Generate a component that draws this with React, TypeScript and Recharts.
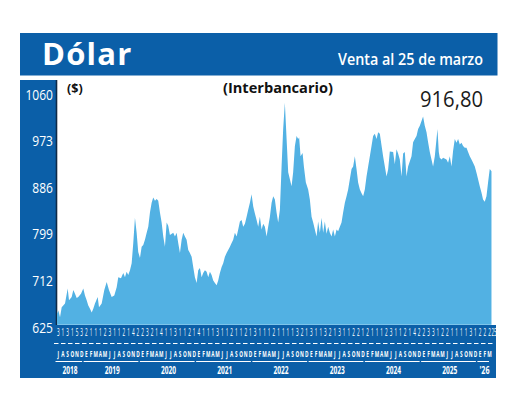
import React from 'react';
import { AreaChart, Area, XAxis, YAxis } from 'recharts';

// months since July 2018 (fractional) and interbank dollar sale price (CLP)
const monthPos = [
  0, 0.15, 0.28, 0.64, 1.0, 1.34, 1.71, 2.28, 2.56, 3.13, 3.48, 3.84, 4.2, 4.54, 5.12, 5.61, 5.97,
  6.33, 6.67, 7.04, 7.4, 7.74, 8.1, 8.68, 8.96, 9.53, 10.09, 10.6, 11.09, 11.66, 12.22, 12.73,
  13.07, 13.65, 14.14, 14.5, 14.86, 15.2, 15.57, 15.93, 16.27, 16.63, 16.99, 17.33, 17.7, 18.06,
  18.4, 18.76, 19.13, 19.47, 19.83, 20.19, 20.53, 20.9, 21.26, 21.6, 21.96, 22.32, 22.67, 23.03,
  23.39, 23.73, 24.09, 24.8, 25.16, 25.52, 25.86, 26.23, 26.59, 26.93, 27.29, 27.65, 28.0, 28.36,
  28.72, 29.06, 29.42, 29.79, 30.13, 30.49, 30.85, 31.19, 31.56, 31.92, 32.26, 32.62, 32.98, 33.33,
  33.69, 34.05, 34.39, 34.75, 35.12, 35.46, 35.82, 36.18, 36.52, 36.89, 37.25, 37.59, 37.95, 38.32,
  38.66, 39.02, 39.38, 39.72, 40.09, 40.45, 40.79, 41.15, 41.51, 41.86, 42.22, 42.58, 42.92, 43.28,
  43.65, 43.99, 44.35, 44.71, 45.05, 45.42, 45.78, 46.12, 46.48, 46.84, 47.19, 47.55, 47.91, 48.25,
  48.61, 48.98, 49.32, 49.68, 50.04, 50.38, 50.75, 51.11, 51.45, 51.66, 51.96, 52.39, 52.67, 53.09,
  53.58, 53.94, 54.31, 54.65, 55.01, 55.37, 55.71, 56.08, 56.44, 56.78, 57.14, 57.51, 57.85, 58.21,
  58.57, 58.91, 59.28, 59.64, 59.98, 60.34, 60.7, 61.04, 61.41, 61.77, 62.11, 62.47, 62.84, 63.18,
  63.54, 63.9, 64.24, 64.61, 64.97, 65.31, 65.67, 66.03, 66.38, 66.74, 67.1, 67.44, 67.8, 68.17,
  68.51, 68.87, 69.57, 70.3, 70.64, 71.0, 71.71, 72.07, 72.43, 72.77, 73.13, 73.5, 73.84, 74.2,
  74.56, 74.9, 75.63, 75.97, 76.33, 76.7, 77.04, 77.4, 77.76, 78.1, 78.46, 78.83, 79.17, 79.53,
  79.89, 80.23, 80.6, 80.96, 81.17, 81.45, 81.66, 82.03, 82.37, 83.09, 83.43, 83.8, 84.16, 84.5,
  84.86, 85.22, 85.57, 85.93, 86.29, 86.63, 86.99, 87.36, 87.7, 88.06, 88.42, 88.76, 89.13, 89.49,
  89.83, 90.19, 90.55, 90.89, 91.26, 91.62, 91.96, 92.32, 92.69,
];

const rate = [
  655, 651, 657, 644, 663, 666, 670, 698, 676, 682, 695, 688, 680, 682, 688, 698, 685,
  676, 666, 660, 653, 660, 670, 682, 663, 670, 695, 710, 695, 682, 685, 700,
  719, 717, 727, 719, 729, 723, 732, 745, 783, 830, 802, 766, 755, 776,
  779, 789, 802, 813, 840, 858, 868, 862, 865, 862, 840, 821, 795, 776,
  821, 815, 798, 802, 795, 802, 783, 764, 789, 802, 795, 789, 770, 764,
  757, 738, 719, 708, 732, 736, 719, 727, 732, 729, 719, 729, 723, 713,
  708, 704, 713, 727, 738, 745, 757, 764, 770, 776, 783, 789, 802, 795,
  808, 823, 826, 813, 819, 832, 845, 858, 874, 851, 838, 826, 813, 832,
  808, 819, 813, 795, 813, 832, 858, 870, 864, 840, 821, 845, 926, 996,
  1045, 977, 915, 902, 889, 915, 964, 983, 977, 980, 945, 951, 926, 896,
  883, 864, 832, 821, 808, 795, 823, 802, 830, 802, 823, 800, 813, 802,
  795, 808, 795, 808, 805, 813, 821, 840, 858, 870, 883, 902, 921, 926,
  945, 921, 896, 883, 876, 870, 883, 907, 926, 945, 964, 983, 987, 977,
  990, 987, 945, 907, 920, 954, 953, 930, 958, 950, 939, 907, 950, 953,
  907, 926, 945, 971, 977, 983, 996, 1002, 1011, 1019, 1002, 990, 971, 953,
  939, 926, 945, 977, 996, 953, 942, 939, 942, 939, 933, 945, 926, 955,
  977, 970, 977, 967, 970, 964, 961, 961, 953, 945, 939, 933, 926, 914,
  902, 889, 877, 864, 860, 870, 896, 921, 916.8,
];

const yTicks = [625, 712, 799, 886, 973, 1060];

// first quoted day of each month, Jul 2018 .. Mar 2026
const firstDays = [
  3, 1, 3, 1, 5, 3,
  2, 1, 1, 1, 2, 3, 1, 1, 2, 1, 4, 2,
  2, 3, 2, 1, 4, 1, 1, 3, 1, 1, 2, 1,
  4, 1, 1, 1, 3, 1, 1, 2, 1, 1, 2, 1,
  3, 1, 1, 1, 2, 1, 1, 1, 1, 3, 2, 1,
  3, 1, 1, 3, 2, 1, 3, 1, 1, 2, 2, 1,
  2, 1, 1, 1, 2, 3, 1, 1, 2, 1, 4, 2,
  2, 3, 3, 1, 2, 2, 1, 1, 1, 1, 3, 1,
  2, 2, 2,
];
const monthInitials = ['E', 'F', 'M', 'A', 'M', 'J', 'J', 'A', 'S', 'O', 'N', 'D'];
const firstMonthOfYear = 6; // July
const years = [
  { label: '2018', start: 0, months: 6 },
  { label: '2019', start: 6, months: 12 },
  { label: '2020', start: 18, months: 12 },
  { label: '2021', start: 30, months: 12 },
  { label: '2022', start: 42, months: 12 },
  { label: '2023', start: 54, months: 12 },
  { label: '2024', start: 66, months: 12 },
  { label: '2025', start: 78, months: 12 },
  { label: "'26", start: 90, months: 2.8 },
];
const lastDayLabel = '25';

const titleText = 'Dólar';
const subtitleText = 'Venta al 25 de marzo';
const unitText = '($)';
const noteText = '(Interbancario)';
const lastValueText = '916,80';

const BLUE = '#0b5fa8';
const AREA = '#52b1e3';
const FONT = '"Open Sans", "DejaVu Sans", sans-serif';
const X_MAX = 92.8;
const PLOT_W = 435;
const MONTH_PX = PLOT_W / X_MAX;

const data = monthPos.map((t, i) => ({ t, v: rate[i] }));
const monthTicks = [...firstDays.map((_, i) => i), monthPos[monthPos.length - 1]];

function MonthTick(props: any) {
  const { x, payload } = props;
  const t = payload.value as number;
  if (!Number.isInteger(t)) {
    return (
      <g transform={`translate(${x + 2.6},336)`}>
        <text transform="scale(0.4,1)" textAnchor="middle" fontSize={11} fill="#fff" fontFamily={FONT}>
          {lastDayLabel}
        </text>
      </g>
    );
  }
  const letter = monthInitials[(t + firstMonthOfYear) % 12];
  const year = years.find((yy) => yy.start === t);
  const cx = x + 1.2;
  return (
    <g>
      <g transform={`translate(${cx},336)`}>
        <text transform="scale(0.42,1)" textAnchor="middle" fontSize={11} fill="#fff" fontFamily={FONT}>
          {firstDays[t]}
        </text>
      </g>
      <g transform={`translate(${cx},357)`}>
        <text transform="scale(0.5,1)" textAnchor="middle" fontSize={9.5} fontWeight={700} fill="#fff" fontFamily={FONT}>
          {letter}
        </text>
      </g>
      {year && (
        <g>
          <line
            x1={x - 1.5}
            x2={x + year.months * MONTH_PX - 3}
            y1={361.5}
            y2={361.5}
            stroke="#fff"
            strokeWidth={1}
          />
          <text
            x={x + (year.months * MONTH_PX) / 2 - 1}
            y={374}
            textAnchor="middle"
            fontSize={10}
            fontWeight={700}
            fill="#fff"
            fontFamily={FONT}
            textLength={year.label.length === 4 ? 15 : 10}
            lengthAdjust="spacingAndGlyphs"
          >
            {year.label}
          </text>
        </g>
      )}
    </g>
  );
}

function ValueTick(props: any) {
  const { x, y, payload } = props;
  return (
    <g transform={`translate(${x},${y})`}>
      <text transform="scale(0.86,1)" textAnchor="end" dy="0.36em" fontSize={14} fill="#fff" fontFamily={FONT}>
        {payload.value}
      </text>
    </g>
  );
}

export default function App() {
  return (
    <div style={{ position: 'absolute', left: 0, top: 0, width: 520, height: 407, background: '#fff' }}>
      <svg width={520} height={407} style={{ position: 'absolute', left: 0, top: 0 }}>
        <rect x={20} y={33} width={477.5} height={42.5} fill={BLUE} />
        <rect x={20} y={80} width={37} height={298} fill={BLUE} />
        <rect x={20} y={325} width={476} height={53} fill={BLUE} />
        <line x1={54} x2={493} y1={343.5} y2={343.5} stroke="#fff" strokeWidth={1} strokeDasharray="4.5 2.5" />
        <line x1={56.5} x2={56.5} y1={80} y2={325} stroke="#0e2a47" strokeWidth={1.6} />
      </svg>
      <div style={{ position: 'absolute', left: 0, top: 0 }}>
        <AreaChart width={520} height={407} data={data} margin={{ top: 77, right: 28, bottom: 39.5, left: 20 }}>
          <XAxis
            dataKey="t"
            type="number"
            domain={[0, X_MAX]}
            allowDataOverflow
            ticks={monthTicks}
            interval={0}
            tick={<MonthTick />}
            axisLine={false}
            tickLine={false}
            height={40}
          />
          <YAxis
            type="number"
            domain={[625, 1093]}
            allowDataOverflow
            ticks={yTicks}
            interval={0}
            tick={<ValueTick />}
            axisLine={false}
            tickLine={false}
            tickSize={0}
            tickMargin={4}
            width={37}
          />
          <Area
            dataKey="v"
            type="linear"
            baseValue={630}
            stroke="none"
            fill={AREA}
            fillOpacity={1}
            isAnimationActive={false}
            dot={false}
            activeDot={false}
          />
        </AreaChart>
      </div>
      <svg width={520} height={407} style={{ position: 'absolute', left: 0, top: 0, pointerEvents: 'none' }}>
        <text x={42} y={65} fontSize={31} fontWeight={700} fill="#fff" fontFamily={FONT} letterSpacing={1.2}>
          {titleText}
        </text>
        <text
          x={338}
          y={65}
          fontSize={17}
          fontWeight={600}
          fill="#fff"
          fontFamily={FONT}
          textLength={145}
          lengthAdjust="spacingAndGlyphs"
        >
          {subtitleText}
        </text>
        <text x={67} y={93} fontSize={12.5} fontWeight={700} fill="#111" fontFamily={FONT}>
          {unitText}
        </text>
        <text
          x={223}
          y={93}
          fontSize={14}
          fontWeight={700}
          fill="#111"
          fontFamily={FONT}
          textLength={110}
          lengthAdjust="spacingAndGlyphs"
        >
          {noteText}
        </text>
        <text
          x={420}
          y={107}
          fontSize={21}
          fill="#1a1a1a"
          fontFamily={FONT}
          textLength={63}
          lengthAdjust="spacingAndGlyphs"
        >
          {lastValueText}
        </text>
      </svg>
    </div>
  );
}
